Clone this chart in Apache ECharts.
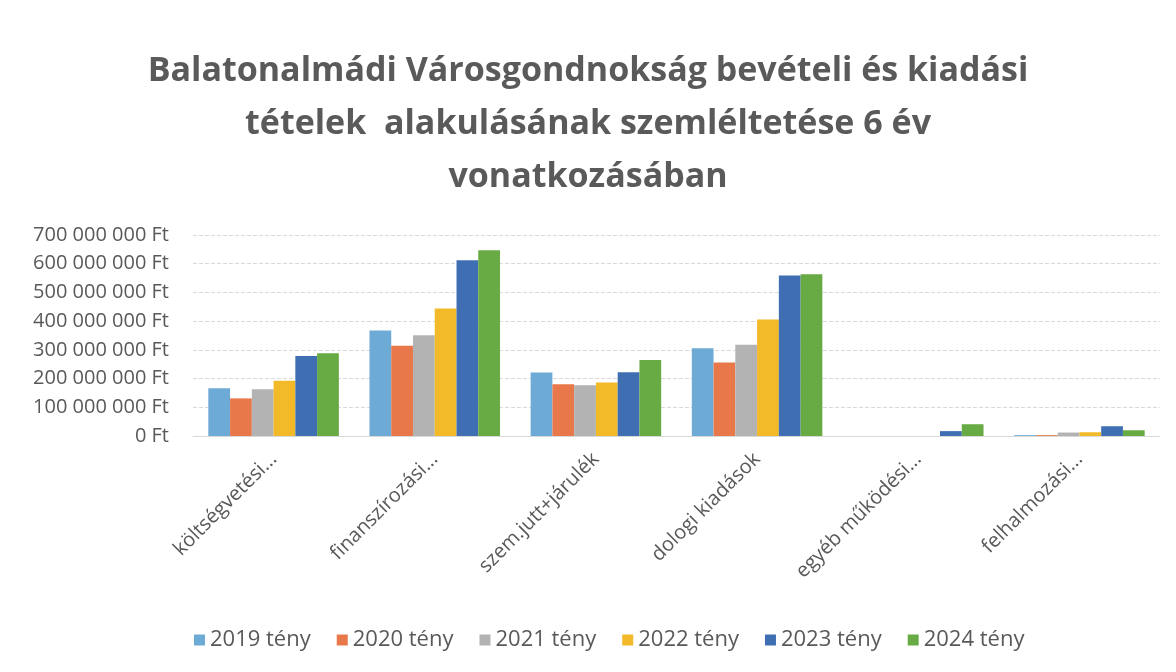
<!DOCTYPE html>
<html style="height: 100%">
<head>
    <meta charset="utf-8">
</head>
<body style="height: 100%; margin: 0; background: #ffffff">
<div id="container" style="width: 1176px; height: 672px"></div>

<script src="https://cdn.jsdelivr.net/npm/echarts@6/dist/echarts.min.js"></script>
<script type="text/javascript">
    // categories (truncated as on the original chart)
    var categories = ['költségvetési...', 'finanszírozási...', 'szem.jutt+járulék', 'dologi kiadások', 'egyéb működési...', 'felhalmozási...'];
    var years = ['2019 tény', '2020 tény', '2021 tény', '2022 tény', '2023 tény', '2024 tény'];

    // values in Ft
    var v2019 = [166000000, 367000000, 221000000, 306000000, 0, 3000000];
    var v2020 = [131000000, 314000000, 180000000, 256000000, 0, 3000000];
    var v2021 = [163000000, 351000000, 177000000, 318000000, 0, 12000000];
    var v2022 = [192000000, 444000000, 186000000, 406000000, 0, 13000000];
    var v2023 = [279000000, 612000000, 222000000, 559000000, 17000000, 34000000];
    var v2024 = [288000000, 647000000, 265000000, 563000000, 41000000, 20000000];
    var seriesValues = [v2019, v2020, v2021, v2022, v2023, v2024];

    var colors = ['#6eaad6', '#e8784a', '#b3b3b3', '#f2b928', '#3f6fb2', '#68ab45'];

    var myChart = echarts.init(document.getElementById('container'), null, {renderer: 'canvas'});

    function fmtFt(val) {
        return String(val).replace(/\B(?=(\d{3})+(?!\d))/g, ' ') + ' Ft';
    }

    var option = {
        backgroundColor: '#ffffff',
        color: colors,
        animation: false,
        title: {
            text: 'Balatonalmádi Városgondnokság bevételi és kiadási\ntételek  alakulásának szemléltetése 6 év\nvonatkozásában',
            left: 'center',
            top: 40,
            textStyle: {
                fontFamily: 'Open Sans',
                fontWeight: 'bold',
                fontSize: 34,
                lineHeight: 53,
                color: '#5a5a5a'
            }
        },
        legend: {
            bottom: 16,
            left: 189,
            itemWidth: 11,
            itemHeight: 11,
            itemGap: 26,
            icon: 'rect',
            textStyle: {
                fontFamily: 'Open Sans',
                fontSize: 22,
                color: '#595959'
            },
            data: years
        },
        grid: {
            left: 193,
            right: 16,
            top: 235,
            bottom: 236
        },
        xAxis: {
            type: 'category',
            data: categories,
            axisTick: {show: false},
            axisLine: {lineStyle: {color: '#d9d9d9'}},
            axisLabel: {
                rotate: 45,
                interval: 0,
                margin: 20,
                fontFamily: 'Open Sans',
                fontSize: 20,
                color: '#595959'
            }
        },
        yAxis: {
            type: 'value',
            min: 0,
            max: 700000000,
            interval: 100000000,
            axisLine: {show: false},
            axisTick: {show: false},
            splitLine: {lineStyle: {color: '#d9d9d9', type: 'dashed'}},
            axisLabel: {
                margin: 24,
                fontFamily: 'Open Sans',
                fontSize: 20,
                color: '#595959',
                formatter: fmtFt
            }
        },
        series: years.map(function (name, i) {
            return {
                name: name,
                type: 'bar',
                barGap: '0%',
                barCategoryGap: '19%',
                data: seriesValues[i]
            };
        })
    };

    myChart.setOption(option);
</script>
</body>
</html>
